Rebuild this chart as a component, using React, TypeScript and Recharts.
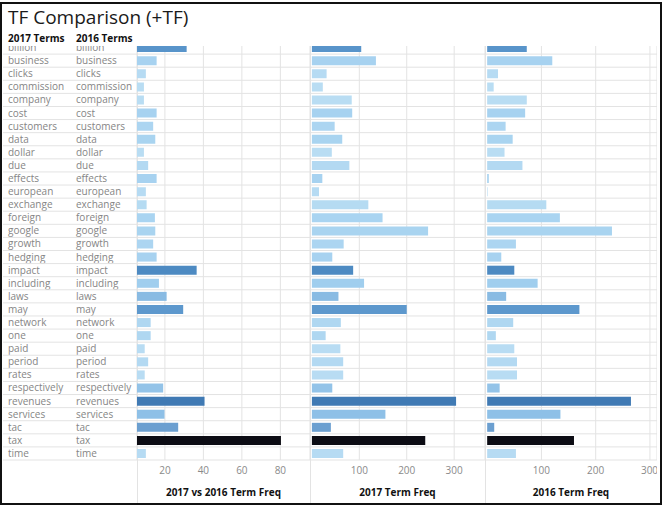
import { BarChart, Bar, XAxis, YAxis, CartesianGrid, Cell } from "recharts";

const terms = [
  "billion", "business", "clicks", "commission", "company", "cost", "customers", "data",
  "dollar", "due", "effects", "european", "exchange", "foreign", "google", "growth",
  "hedging", "impact", "including", "laws", "may", "network", "one", "paid",
  "period", "rates", "respectively", "revenues", "services", "tac", "tax", "time",
];
const terms2016 = [
  "billion", "business", "clicks", "commission", "company", "cost", "customers", "data",
  "dollar", "due", "effects", "european", "exchange", "foreign", "google", "growth",
  "hedging", "impact", "including", "laws", "may", "network", "one", "paid",
  "period", "rates", "respectively", "revenues", "services", "tac", "tax", "time",
];

// 2017 vs 2016 term freq
const diffFreq = [
  31.3, 15.7, 10.1, 9.1, 9.1, 15.7, 13.9, 15, 9.1, 11.3, 15.7, 10.1, 10.5, 14.8, 15, 13.9,
  15.7, 36.5, 16.9, 20.9, 29.5, 12.6, 12.6, 9.5, 11.3, 9.5, 19.1, 40.6, 19.8, 26.9, 80.3, 10.1,
];
const freq2017 = [
  104, 135, 31, 23, 84, 85, 48, 64, 42, 79, 22, 15, 119, 149, 245, 67,
  43, 87, 110, 56, 200, 61, 29, 60, 66, 66, 43, 304, 155, 40, 239, 66,
];
const freq2016 = [
  73, 120, 20, 12, 73, 70, 34, 47, 32, 65, 3, 1, 109, 134, 230, 53,
  26, 50, 93, 35, 170, 48, 16, 50, 55, 55, 23, 265, 135, 13, 160, 53,
];

const diffTicks = [20, 40, 60, 80];
const freqTicks = [0, 100, 200, 300];

const data = terms.map((term, i) => ({
  term,
  term2016: terms2016[i],
  diff: diffFreq[i],
  f2017: freq2017[i],
  f2016: freq2016[i],
}));

const colorStops: [number, string][] = [
  [9, "#b9ddf3"],
  [16, "#a6d2f0"],
  [20, "#8dbfe6"],
  [27, "#6a9fd0"],
  [30, "#5a96cc"],
  [36, "#4f8cc4"],
  [41, "#3f78b3"],
  [80, "#0c0c14"],
];

function hex(c: string) {
  return [1, 3, 5].map((k) => parseInt(c.slice(k, k + 2), 16));
}

function colorFor(v: number) {
  if (v <= colorStops[0][0]) return colorStops[0][1];
  for (let i = 1; i < colorStops.length; i++) {
    const [v1, c1] = colorStops[i];
    const [v0, c0] = colorStops[i - 1];
    if (v <= v1) {
      const t = (v - v0) / (v1 - v0);
      const a = hex(c0);
      const b = hex(c1);
      const m = a.map((x, k) => Math.round(x + (b[k] - x) * t));
      return `rgb(${m[0]},${m[1]},${m[2]})`;
    }
  }
  return colorStops[colorStops.length - 1][1];
}

const CHART_TOP = 41;
const CHART_H = 462;
const AXIS_H = 43;
const PLOT_H = CHART_H - AXIS_H;
const ROW_H = PLOT_H / terms.length;
const LINE = "#e3e3e3";
const FONT = "'Open Sans', sans-serif";

const rowLines = ({ offset }: any) => {
  const top = offset ? offset.top : 0;
  const h = offset ? offset.height : PLOT_H;
  return terms.map((_, i) => top + ((i + 1) * h) / terms.length);
};

function TermTick(props: any) {
  const { y, payload, index } = props;
  const row = data[index] || data.find((d) => d.term === payload.value);
  return (
    <g>
      <text x={8} y={y} dy="0.35em" fontSize={10} fill="#858585" fontFamily={FONT}>
        {payload.value}
      </text>
      <text x={76} y={y} dy="0.35em" fontSize={10} fill="#858585" fontFamily={FONT}>
        {row ? row.term2016 : payload.value}
      </text>
      <line x1={3} x2={137} y1={y + ROW_H / 2} y2={y + ROW_H / 2} stroke={LINE} />
    </g>
  );
}

type PanelProps = {
  left: number;
  width: number;
  dataKey: string;
  domain: [number, number];
  ticks: number[];
  title: string;
  labels?: boolean;
};

function Panel({ left, width, dataKey, domain, ticks, title, labels }: PanelProps) {
  return (
    <div style={{ position: "absolute", left, top: CHART_TOP }}>
      <BarChart
        width={width}
        height={CHART_H}
        data={data}
        layout="vertical"
        margin={{ top: 0, right: 0, bottom: 0, left: 0 }}
        barCategoryGap="16%"
      >
        <CartesianGrid
          stroke={LINE}
          horizontalCoordinatesGenerator={rowLines}
          verticalFill={[]}
        />
        <XAxis
          type="number"
          domain={domain}
          ticks={ticks}
          allowDataOverflow
          height={AXIS_H}
          axisLine={false}
          tickLine={false}
          tickSize={0}
          tickMargin={7}
          tick={{ fontSize: 10, fill: "#8a8a8a", fontFamily: FONT }}
          label={{
            value: title,
            position: "insideBottom",
            offset: 7,
            fontSize: 10,
            fontWeight: 700,
            fill: "#111",
            fontFamily: FONT,
          }}
        />
        {labels ? (
          <YAxis
            type="category"
            dataKey="term"
            width={137}
            axisLine={false}
            tickLine={false}
            interval={0}
            tick={<TermTick />}
          />
        ) : (
          <YAxis type="category" dataKey="term" hide />
        )}
        <Bar dataKey={dataKey} isAnimationActive={false}>
          {data.map((d) => (
            <Cell key={d.term} fill={colorFor(d.diff)} />
          ))}
        </Bar>
      </BarChart>
    </div>
  );
}

export default function App() {
  const sep = (x: number) => (
    <div
      style={{
        position: "absolute",
        left: x,
        top: CHART_TOP,
        width: 1,
        height: 462,
        background: LINE,
      }}
    />
  );
  const header = {
    position: "absolute" as const,
    top: 30,
    fontSize: 10,
    lineHeight: "11px",
    fontWeight: 700,
    color: "#111",
    whiteSpace: "nowrap" as const,
  };
  return (
    <div
      style={{
        position: "absolute",
        left: 0,
        top: 0,
        width: 666,
        height: 506,
        background: "#fff",
        fontFamily: FONT,
        overflow: "hidden",
      }}
    >
      {sep(137)}
      {sep(310)}
      {sep(485)}
      <Panel
        left={0}
        width={310}
        dataKey="diff"
        domain={[5.5, 95.4]}
        ticks={diffTicks}
        title="2017 vs 2016 Term Freq"
        labels
      />
      <Panel
        left={310}
        width={175}
        dataKey="f2017"
        domain={[-4, 365]}
        ticks={freqTicks}
        title="2017 Term Freq"
      />
      <Panel
        left={485}
        width={172}
        dataKey="f2016"
        domain={[-4, 313]}
        ticks={freqTicks}
        title="2016 Term Freq"
      />
      <div
        style={{
          position: "absolute",
          left: 2,
          top: 3,
          width: 657,
          height: 43,
          background: "#fff",
        }}
      >
        <div
          style={{
            position: "absolute",
            left: 6,
            top: 1,
            fontSize: 19,
            lineHeight: "26px",
            color: "#1a1a1a",
            whiteSpace: "nowrap",
          }}
        >
          TF Comparison (+TF)
        </div>
        <div style={{ ...header, left: 6 }}>2017 Terms</div>
        <div style={{ ...header, left: 74 }}>2016 Terms</div>
      </div>
      <div
        style={{
          position: "absolute",
          left: 0,
          top: 2,
          width: 662,
          height: 503,
          border: "2px solid #111",
          boxSizing: "border-box",
        }}
      />
    </div>
  );
}
